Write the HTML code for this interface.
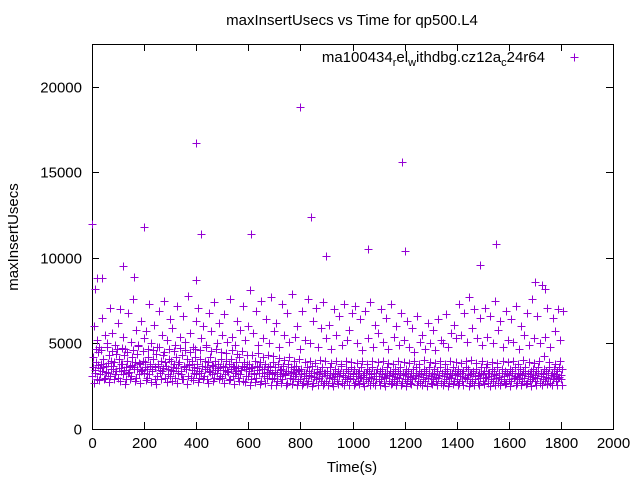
<!DOCTYPE html>
<html><head><meta charset="utf-8"><style>
body{margin:0;background:#fff}
svg{display:block;font-family:"Liberation Sans",sans-serif}
</style></head><body>
<svg id="chart" width="640" height="480"></svg>
<script>
const xTicks=[0,200,400,600,800,1000,1200,1400,1600,1800,2000];
const yTicks=[0,5000,10000,15000,20000];
const times=[];for(let t=0;t<=1800;t+=10)times.push(t);
const lowVals=[3100,3300,2900,3200,3400,3000,3300,3100,3500,3200,3000,3400,3200,2900,3300,3100,3500,3000,3200,3400,3300,3000,3200,3500,2900,3100,3300,3400,3000,3200,3100,3400,3000,3300,3200,2900,3500,3100,3000,3300,3200,3000,3300,3100,2900,3400,3200,3000,3300,3100,3000,3200,3400,2900,3100,3300,3000,3200,2800,3100,3100,2900,3200,3000,3300,2800,3100,3000,3200,2900,3000,2800,3100,2900,3200,2700,3000,2900,3100,2800,2900,2700,3000,2800,3100,2700,2900,3000,2800,2700,2800,3000,2700,2900,2800,3100,2700,2900,2800,3000,2900,2700,2800,3000,2700,2900,2800,3000,2700,2900,2800,2900,2700,3000,2800,2700,2900,2800,3000,2700,2900,2800,2700,2900,3000,2800,2700,2900,2800,3000,2700,2900,2800,3000,2700,2800,2900,2700,3000,2800,2900,2700,2800,3000,2900,2700,2800,2900,2700,3000,2800,3000,2700,2900,2800,3000,2700,2900,2800,2700,2900,2800,3000,2700,2900,2800,3000,2700,2800,2900,2800,3000,2700,2900,2800,3000,2700,2900,2800,3000,2900];
const midVals=[4200,3900,4500,3800,4100,3700,4300,4000,3900,4400,4100,3800,4300,4000,3700,4200,3900,4400,3800,4000,3900,4200,3700,4100,4400,3800,4000,4300,3700,4100,4000,3800,4200,3900,4300,3700,4100,3800,4000,4200,3800,4100,3700,4000,3900,4200,3700,4000,3800,4100,3700,4000,3800,4100,3600,3900,4200,3700,3900,3800,3800,3600,4000,3700,3900,3500,3800,3600,3700,3900,3600,3800,3500,3700,3400,3800,3600,3500,3700,3400,3500,3300,3600,3400,3700,3300,3500,3400,3600,3300,3400,3600,3300,3500,3400,3700,3300,3500,3400,3600,3500,3300,3400,3600,3300,3500,3400,3600,3300,3500,3400,3500,3300,3600,3400,3300,3500,3400,3600,3300,3500,3400,3300,3500,3600,3400,3300,3500,3400,3600,3300,3500,3400,3600,3300,3400,3500,3300,3600,3400,3500,3300,3400,3600,3500,3300,3400,3500,3300,3600,3400,3600,3300,3500,3400,3600,3300,3500,3400,3300,3500,3400,3600,3300,3500,3400,3600,3300,3400,3500,3400,3600,3300,3500,3400,3600,3300,3500,3400,3600,3500];
const bandAVals=[3600,3450,3750,3550,3650,3350,3850,3500,3700,3400,3550,3800,3450,3650,3350,3750,3600,3500,3850,3450,3650,3500,3800,3400,3600,3700,3450,3550,3900,3500,3450,3650,3550,3800,3400,3600,3500,3750,3450,3650,3550,3400,3700,3500,3600,3350,3750,3450,3550,3650,3450,3600,3350,3500,3700,3400,3550,3450,3650,3500,3400,3550,3300,3450,3600,3250,3500,3350,3450,3300,3350,3200,3450,3300,3150,3400,3250,3350,3200,3450,3200,3100,3300,3150,3250,3050,3350,3200,3100,3250,3150,3250,3050,3200,3100,3300,3150,3050,3250,3100,3200,3100,3250,3050,3150,3300,3050,3200,3100,3250,3100,3200,3050,3250,3150,3100,3200,3050,3300,3150,3200,3100,3050,3250,3150,3100,3200,3050,3150,3250,3100,3200,3050,3150,3250,3100,3200,3050,3300,3150,3200,3100,3250,3050,3150,3200,3300,3100,3150,3250,3200,3050,3250,3100,3200,3150,3050,3250,3100,3200,3150,3250,3100,3050,3200,3150,3250,3100,3200,3050,3150,3250,3100,3200,3050,3250,3150,3100,3200,3050,3150];
const bandBVals=[2700,4700,2850,4600,2950,4800,2750,4550,2900,4650,2800,4750,2650,4500,2950,4600,2800,4850,2700,4550,2850,4700,2750,4600,2650,4800,2900,4500,2750,4650,2800,4550,2700,4750,2950,4600,2650,4500,2850,4700,2750,4600,2900,4800,2700,4550,2800,4650,2950,4500,2700,4450,2850,4600,2650,4400,2800,4550,2750,4350,2600,4300,2750,4450,2650,4200,2700,4350,2600,4250,2600,4150,2700,4050,2550,4200,2650,3950,2600,4100,2550,3900,2650,4000,2500,3850,2600,4050,2550,3950,2600,3850,2500,3950,2650,3800,2550,4000,2600,3900,2550,3850,2650,3950,2500,3800,2600,4000,2550,3900,2600,3950,2500,3850,2650,3800,2550,4000,2600,3900,2500,3850,2650,3950,2550,3800,2600,4050,2500,3900,2650,3850,2550,3950,2600,3800,2500,4000,2650,3900,2550,3850,2600,3950,2500,4050,2600,3850,2550,3950,2650,3800,2500,3900,2600,3850,2550,4000,2650,3900,2500,3950,2600,3800,2550,4050,2650,3900,2500,3850,2600,3950,2550,4250,2650,3900,2600,3800,2550,4000,2600,3900,2650];
const highVals=[6000,5200,4800,6500,5500,5000,7100,5600,4900,6200,7000,5400,4700,6800,5100,7600,5800,4900,6300,5300,5700,7300,5000,6100,4800,6900,5500,7500,5200,6400,5900,4900,7200,5400,6600,5100,7800,5600,4800,6300,7100,5300,6000,4900,6800,5700,7400,5000,6200,5500,6700,5100,7600,5400,4900,6300,5800,7200,5200,6000,8100,5600,6900,4900,7500,5300,6400,5000,7700,5700,6200,4800,7300,5500,6800,5100,7900,5400,6000,4700,6900,5200,7600,5000,6300,7100,4800,5900,7400,5300,6100,4700,7000,5500,6600,4900,7300,5200,5800,6800,7200,5000,6400,4600,6900,5300,7400,4800,6100,5600,7000,5100,6500,4700,7300,5400,6000,4900,6800,5200,6300,4800,5900,4500,6600,5100,5500,4700,6200,5000,5800,4600,6400,5200,5000,6700,4800,5600,6100,5300,7300,5500,6800,5100,7700,5900,7000,5300,6500,4900,7100,5400,6600,5000,7500,5800,6300,4800,6900,5200,6400,5100,7200,4700,6000,5500,6800,4900,7600,5300,6600,5000,8400,5400,7100,4800,6500,5700,7000,5200,6900];
const outTimes=[0,10,20,40,120,160,200,400,400,420,610,800,840,900,1060,1190,1200,1490,1550,1700,1740];
const outVals=[12000,8200,8800,8800,9500,8900,11800,16700,8700,11400,11400,18800,12400,10100,10500,15600,10400,9600,10800,8600,8200];

const L=92,R=613,T=44,B=429,YMAX=22500,XMAX=2000;
const x=v=>L+(R-L)*v/XMAX, y=v=>B-(B-T)*v/YMAX;
const svg=document.getElementById('chart'),NS='http://www.w3.org/2000/svg';
function mk(tag,attrs,parent){const e=document.createElementNS(NS,tag);for(const k in attrs)e.setAttribute(k,attrs[k]);(parent||svg).appendChild(e);return e;}
const grid=mk('g',{stroke:'#000','stroke-width':1});


xTicks.forEach(t=>{const px=Math.round(x(t))+.5;
 mk('line',{x1:px,x2:px,y1:B,y2:B-7},grid);mk('line',{x1:px,x2:px,y1:T,y2:T+7},grid);
 const tx=mk('text',{x:px,y:B+19,'text-anchor':'middle','font-size':15,fill:'#000'});tx.textContent=t;
 
 });
yTicks.forEach(t=>{const py=Math.round(y(t))+.5;
 mk('line',{x1:L,x2:L+7,y1:py,y2:py},grid);mk('line',{x1:R,x2:R-7,y1:py,y2:py},grid);
 const tx=mk('text',{x:L-10,y:py+5,'text-anchor':'end','font-size':15,fill:'#000'});tx.textContent=t;
 
 });
const box=mk('rect',{x:L+.5,y:T+.5,width:R-L,height:B-T,fill:'none',stroke:'#000'});


const pts=mk('g',{stroke:'#9400d3','stroke-width':1});


function plus(t,v){const cx=Math.round(x(t))+.5,cy=Math.round(y(v))+.5;
 const p=mk('path',{d:`M${cx-4} ${cy}h8M${cx} ${cy-4}v8`},pts);
 
 }
times.forEach((t,i)=>{plus(t,lowVals[i]);plus(t+2,bandAVals[i]);plus(t+4,midVals[i]);plus(t+6,bandBVals[i]);plus(t+8,highVals[i]);});
outTimes.forEach((t,i)=>plus(t,outVals[i]));
const lg=mk('text',{x:545,y:62,'text-anchor':'end','font-size':15,fill:'#000'});
lg.innerHTML='ma100434<tspan font-size="11" dy="4">r</tspan><tspan dy="-4">el</tspan><tspan font-size="11" dy="4">w</tspan><tspan dy="-4">ithdbg.cz12a</tspan><tspan font-size="11" dy="4">c</tspan><tspan dy="-4">24r64</tspan>';


const lm=mk('path',{d:'M570.5 57.5h8M574.5 53.5v8',stroke:'#9400d3'});


const ti=mk('text',{x:352,y:25,'text-anchor':'middle','font-size':15,fill:'#000'});ti.textContent='maxInsertUsecs vs Time for qp500.L4';


const xt=mk('text',{x:352,y:472,'text-anchor':'middle','font-size':15,fill:'#000'});xt.textContent='Time(s)';


const yt=mk('text',{x:18,y:237,'text-anchor':'middle','font-size':15,fill:'#000',transform:'rotate(-90 18 237)'});yt.textContent='maxInsertUsecs';


</script>
</body></html>
